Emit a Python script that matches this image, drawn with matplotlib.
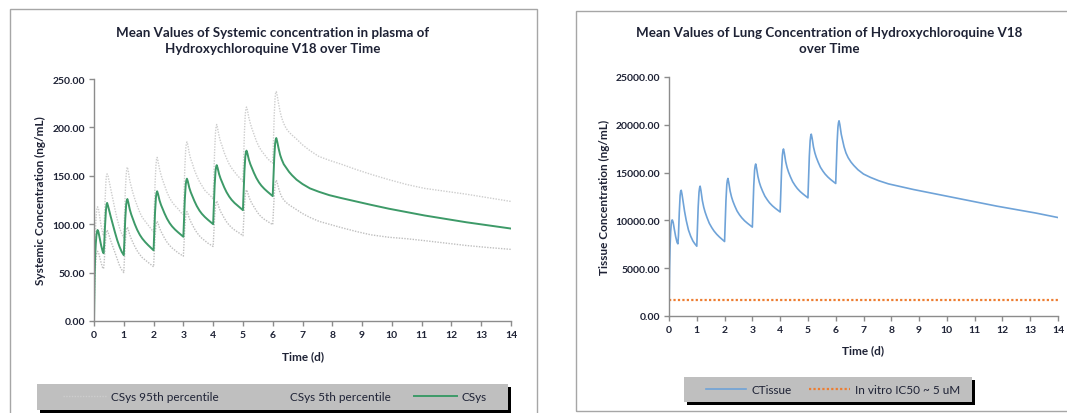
import matplotlib
matplotlib.use('Agg')
import matplotlib.pyplot as plt
from matplotlib.patches import Rectangle

# sampling times (d), shared by the plasma and lung series
time_d = [0.00, 0.01, 0.02, 0.04, 0.06, 0.08, 0.10, 0.12, 0.15, 0.19, 0.24, 0.29, 0.32, 0.34, 0.37, 0.40,
          0.42, 0.44, 0.47, 0.51, 0.56, 0.62, 0.70, 0.78, 0.86, 0.93, 1.00,
          1.02, 1.05, 1.08, 1.10, 1.12, 1.15, 1.20, 1.25, 1.30, 1.37, 1.45, 1.54, 1.62, 1.72, 1.82, 1.92, 2.00,
          2.02, 2.05, 2.08, 2.10, 2.12, 2.15, 2.20, 2.25, 2.30, 2.37, 2.45, 2.54, 2.62, 2.72, 2.82, 2.92, 3.00,
          3.02, 3.05, 3.08, 3.10, 3.12, 3.15, 3.20, 3.25, 3.30, 3.37, 3.45, 3.54, 3.62, 3.72, 3.82, 3.92, 4.00,
          4.02, 4.05, 4.08, 4.10, 4.12, 4.15, 4.20, 4.25, 4.30, 4.37, 4.45, 4.54, 4.62, 4.72, 4.82, 4.92, 5.00,
          5.02, 5.05, 5.08, 5.10, 5.12, 5.15, 5.20, 5.25, 5.30, 5.37, 5.45, 5.54, 5.62, 5.72, 5.82, 5.92, 6.00,
          6.02, 6.05, 6.08, 6.10, 6.12, 6.15, 6.20, 6.25, 6.30, 6.37, 6.45, 6.55, 6.65, 6.80, 7.00, 7.25,
          7.55, 7.90, 8.30, 8.80, 9.30, 9.90, 10.5, 11.1, 11.8, 12.5, 13.2, 14.0]

# systemic plasma concentration (ng/mL)
csys = [0, 25, 45, 68, 80, 88, 92, 94, 92, 86, 78, 72, 70, 78, 98, 114, 120, 122, 119, 114, 108, 101, 92,
        83.5, 76.5, 71.5, 68,
        82.5, 105.7, 120.2, 124.3, 126, 122.8, 115.4, 110.1, 105.9, 100, 94.2, 88.9, 85.2, 81.5, 78.3, 75.4, 73,
        88.3, 112.7, 127.9, 132.2, 134, 131.2, 124.6, 119.9, 116.1, 111, 105.8, 101.1, 97.8, 94.5, 91.7, 89.1, 87,
        102, 126, 141, 145.2, 147, 144.2, 137.6, 132.9, 129.1, 124, 118.8, 114.1, 110.8, 107.5, 104.7, 102.1, 100,
        115.3, 139.7, 154.9, 159.2, 161, 158.2, 151.7, 147.1, 143.3, 138.2, 133.1, 128.5, 125.2, 121.9, 119.2,
        116.6, 114.5,
        129.9, 154.5, 169.9, 174.2, 176, 173.2, 166.6, 161.9, 158.1, 153, 147.8, 143.1, 139.8, 136.5, 133.7,
        131.1, 129,
        144, 168, 183, 187.2, 189, 185.5, 178, 171.5, 167, 162, 158.5, 154, 150.5, 146, 141.5, 137,
        133.5, 130, 127, 123.5, 120, 116, 112.5, 109, 105.5, 102, 99, 95.5]
csys_p95 = [0, 31.5, 57, 86, 101, 111, 116, 118, 116, 108, 98, 91, 88, 98, 123, 144, 151, 152, 150, 144, 136,
            127, 116, 105, 96, 90, 86,
            104, 133, 151, 157, 159, 155, 145, 139, 133, 126, 119, 112, 107, 103, 99, 95, 92,
            111, 142, 161, 167, 169, 165, 157, 151, 146, 140, 133, 127, 123, 119, 116, 112, 110,
            129, 159, 178, 183, 185, 182, 173, 167, 163, 156, 150, 144, 140, 135, 132, 129, 126,
            145, 176, 195, 201, 203, 199, 191, 185, 181, 174, 168, 162, 158, 154, 150, 147, 144,
            164, 195, 214, 219, 221, 218, 210, 204, 199, 193, 186, 180, 176, 172, 168, 165, 163,
            181, 212, 231, 236, 237, 233, 224, 216, 210, 204, 199, 195, 192, 188, 182, 176,
            170, 166, 162, 156.5, 151.5, 146, 141, 137, 134, 131, 127.5, 123.5]
csys_p5 = [0, 19, 35, 52, 62, 68, 71, 72, 71, 66, 60, 55, 54, 60, 75, 88, 92, 94, 92, 88, 83, 78, 71,
           64, 57, 53, 50,
           63.5, 81, 92.5, 95.5, 97, 94.5, 89, 85, 81.5, 77, 72.5, 68.5, 65.5, 63, 60.5, 58, 56,
           68, 87, 98.5, 102, 103, 101, 96, 92.5, 89.5, 85.5, 81.5, 78, 75.5, 73, 70.5, 68.5, 67,
           78.5, 97, 108.5, 112, 113, 111, 106, 102.5, 99.5, 95.5, 91.5, 88, 85.5, 83, 80.5, 78.5, 77,
           89, 107.5, 119, 122.5, 124, 122, 117, 113, 110.5, 106.5, 102.5, 99, 96.5, 94, 92, 90, 88,
           100, 119, 131, 134, 135.5, 133.5, 128.5, 124.5, 121.5, 118, 114, 110, 107.5, 105, 103, 101, 99.5,
           111, 129.5, 141, 144, 145.5, 143, 137, 132, 128.5, 125, 122.5, 120, 118, 115, 111, 107,
           103, 100, 96.5, 92.5, 89, 86.5, 85, 83, 80.5, 78, 76, 74]

# lung tissue concentration (ng/mL)
ctissue = [0, 3000, 5000, 7400, 8800, 9600, 10000, 10050, 9800, 9100, 8300, 7700, 7550, 8400, 10800, 12600,
           13050, 13150, 12700, 11900, 10950, 10000, 9000, 8350, 7850, 7550, 7300,
           8870, 11380, 12950, 13390, 13580, 13120, 12080, 11380, 10860, 10280, 9700, 9240, 8890, 8540, 8250,
           7990, 7790,
           9440, 12080, 13730, 14190, 14390, 13980, 13070, 12460, 12000, 11490, 10980, 10570, 10270, 9960, 9710,
           9480, 9300,
           10950, 13590, 15240, 15700, 15900, 15500, 14600, 13990, 13540, 13040, 12540, 12140, 11830, 11530,
           11280, 11060, 10880,
           12530, 15160, 16810, 17270, 17470, 17060, 16140, 15530, 15070, 14560, 14050, 13640, 13330, 13020,
           12770, 12540, 12360,
           14030, 16690, 18350, 18820, 19020, 18610, 17680, 17060, 16600, 16080, 15560, 15150, 14840, 14530,
           14270, 14040, 13860,
           15500, 18120, 19760, 20220, 20420, 20000, 19000, 18350, 17700, 17050, 16550, 16100, 15750, 15300,
           14850, 14500, 14150, 13820, 13560, 13230, 12940, 12590, 12250, 11890, 11490, 11130, 10770, 10300]

# in vitro IC50 reference level (ng/mL)
ic50_time = [0, 14]
ic50 = [1680, 1680]

sys_ticks = [0, 50, 100, 150, 200, 250]
tis_ticks = [0, 5000, 10000, 15000, 20000, 25000]
day_ticks = list(range(15))

plt.rcParams['font.family'] = ['Lato', 'DejaVu Sans']
text_color = '#1e2235'
axis_color = '#8c8c8c'

W, H = 1067, 414
fig = plt.figure(figsize=(W / 100, H / 100), dpi=100)


def px_rect(x0, y0, x1, y1, **kw):
    # rectangle given in pixel coordinates measured from the top left corner
    r = Rectangle((x0 / W, 1 - y1 / H), (x1 - x0) / W, (y1 - y0) / H, transform=fig.transFigure, **kw)
    fig.patches.append(r)
    return r


# chart area borders
px_rect(10, 10, 537, 430, fill=False, edgecolor='#a6a6a6', linewidth=1)
px_rect(576, 12, 1100, 412, fill=False, edgecolor='#a6a6a6', linewidth=1)

# legend boxes with hard shadow
px_rect(40, 388, 511, 414, facecolor='black', edgecolor='none')
px_rect(37, 385, 508, 411, facecolor='#bfbfbf', edgecolor='none')
px_rect(687, 381, 975, 406, facecolor='black', edgecolor='none')
px_rect(684, 378, 972, 403, facecolor='#bfbfbf', edgecolor='none')

ax1 = fig.add_axes([94 / W, 1 - 322 / H, 417 / W, 242 / H])
ax2 = fig.add_axes([669 / W, 1 - 317 / H, 389 / W, 239 / H])


def style_axes(ax, yticks):
    for side in ['top', 'right']:
        ax.spines[side].set_visible(False)
    for side in ['left', 'bottom']:
        ax.spines[side].set_color(axis_color)
        ax.spines[side].set_linewidth(1)
    ax.set_xlim(0, 14)
    ax.set_ylim(yticks[0], yticks[-1])
    ax.set_xticks(day_ticks)
    ax.set_yticks(yticks)
    ax.set_yticklabels(['{:.2f}'.format(v) for v in yticks])
    ax.tick_params(direction='out', length=3.5, width=1, color=axis_color, labelsize=7.5,
                   labelcolor=text_color, pad=3)
    for lab in ax.get_xticklabels() + ax.get_yticklabels():
        lab.set_fontweight('bold')


def axis_labels(ax, xlab, ylab, xpos, ypos):
    ax.set_xlabel(xlab, fontsize=8.5, fontweight='bold', color=text_color)
    ax.set_ylabel(ylab, fontsize=8.5, fontweight='bold', color=text_color)
    ax.xaxis.set_label_coords(0.5, xpos)
    ax.xaxis.label.set_verticalalignment('center')
    ax.yaxis.set_label_coords(ypos, 0.5)
    ax.yaxis.label.set_verticalalignment('center')


l95, = ax1.plot(time_d, csys_p95, color='#cdcdcd', linestyle=(0, (1, 1)), linewidth=1,
                label='CSys 95th percentile')
l5, = ax1.plot(time_d, csys_p5, color='#bfbfbf', linestyle=(0, (1, 1)), linewidth=1,
               label='CSys 5th percentile')
lm, = ax1.plot(time_d, csys, color='#3d9a68', linewidth=1.4, label='CSys')
style_axes(ax1, sys_ticks)
axis_labels(ax1, 'Time (d)', 'Systemic Concentration (ng/mL)', -0.145, -0.129)

lt, = ax2.plot(time_d, ctissue, color='#6fa3d8', linewidth=1.2, label='CTissue')
li, = ax2.plot(ic50_time, ic50, color='#ed7d31', linestyle=(0, (1, 1)), linewidth=1.6,
               label='In vitro IC50 ~ 5 uM')
style_axes(ax2, tis_ticks)
axis_labels(ax2, 'Time (d)', 'Tissue Concentration (ng/mL)', -0.142, -0.167)

fig.text(273 / W, 1 - 41 / H, 'Mean Values of Systemic concentration in plasma of\nHydroxychloroquine V18 over Time',
         ha='center', va='center', fontsize=9.6, fontweight='bold', color=text_color, linespacing=1.4)
fig.text(829 / W, 1 - 41 / H, 'Mean Values of Lung Concentration of Hydroxychloroquine V18\nover Time',
         ha='center', va='center', fontsize=9.6, fontweight='bold', color=text_color, linespacing=1.4)

# figure-level legends so they sit above the grey boxes
leg1 = fig.legend(handles=[l95, l5, lm], ncol=3, mode='expand', loc='center left',
                  bbox_to_anchor=(63 / W, 1 - 398 / H, 424 / W, 0), bbox_transform=fig.transFigure,
                  borderaxespad=0, borderpad=0, frameon=False, fontsize=8.5, handlelength=3.6,
                  handletextpad=0.45)
leg2 = fig.legend(handles=[lt, li], ncol=2, loc='center left',
                  bbox_to_anchor=(706 / W, 1 - 390.5 / H), bbox_transform=fig.transFigure,
                  borderaxespad=0, borderpad=0, frameon=False, fontsize=8.5, handlelength=3.4,
                  handletextpad=0.45, columnspacing=1.5)
for leg in [leg1, leg2]:
    leg.set_zorder(5)
    for t in leg.get_texts():
        t.set_color(text_color)

fig.savefig('out.png', dpi=100, facecolor='white')
